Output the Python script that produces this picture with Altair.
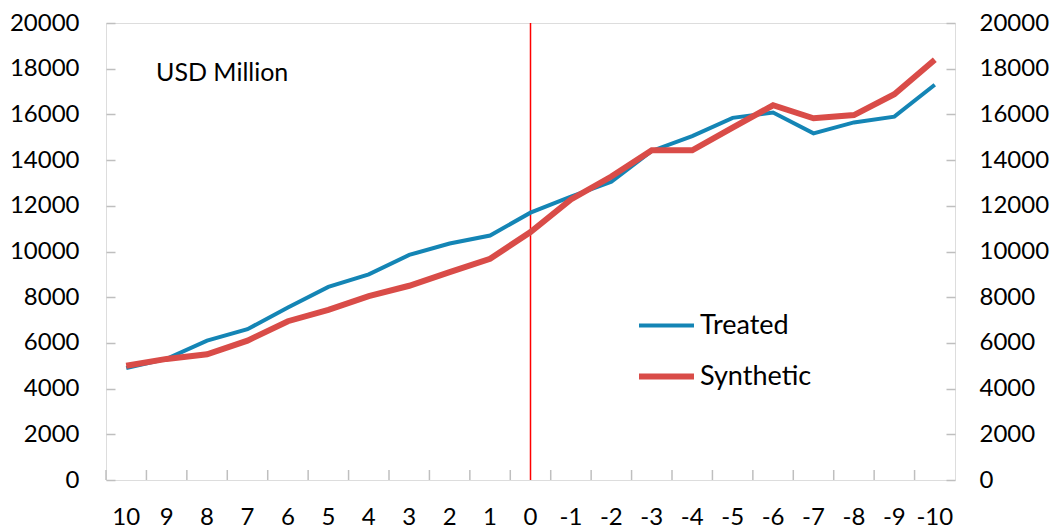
import altair as alt
import pandas as pd

periods = ["10", "9", "8", "7", "6", "5", "4", "3", "2", "1", "0",
           "-1", "-2", "-3", "-4", "-5", "-6", "-7", "-8", "-9", "-10"]
treated = [4900, 5300, 6100, 6600, 7550, 8450, 9000, 9850, 10350, 10700, 11700,
           12400, 13050, 14400, 15050, 15850, 16080, 15170, 15650, 15900, 17300]
synthetic = [5000, 5300, 5500, 6100, 6950, 7450, 8050, 8500, 9100, 9680, 10850,
             12280, 13280, 14430, 14430, 15420, 16400, 15830, 15970, 16880, 18390]
series_names = ["Treated", "Synthetic"]
series_colors = ["#1485B5", "#D94C48"]
series_widths = [4, 6]
treatment_period = "0"
unit_label = "USD Million"
y_ticks = list(range(0, 20001, 2000))

rows = []
for p, t in zip(periods, treated):
    rows.append({"period": p, "value": t, "series": "Treated"})
for p, s in zip(periods, synthetic):
    rows.append({"period": p, "value": s, "series": "Synthetic"})
df = pd.DataFrame(rows)
cats = pd.DataFrame({"period": periods})

GRAY = "#BFBFBF"
FONT = "Lato"
LBL = 24

x_scale = alt.Scale(type="band", domain=periods, paddingInner=0, paddingOuter=0)
y_scale = alt.Scale(domain=[0, 20000], nice=False)

x_axis = alt.Axis(title=None, labelAngle=0, domain=False, grid=False, ticks=False,
                  labelPadding=25, labelFontSize=LBL, labelColor="#000000",
                  labelFont=FONT)


def xenc(band):
    return alt.X("period:N", sort=periods, scale=x_scale, bandPosition=band, axis=x_axis)


left_axis = alt.Axis(title=None, orient="left", values=y_ticks, format="d",
                     domain=False, grid=False, tickSize=9, offset=-9,
                     tickColor=GRAY, tickWidth=1.5, labelPadding=27,
                     labelFontSize=LBL, labelColor="#000000", labelFont=FONT)
right_axis = alt.Axis(title=None, orient="right", values=y_ticks, format="d",
                      domain=False, grid=False, tickSize=9, offset=-9,
                      tickColor=GRAY, tickWidth=1.5, labelPadding=24,
                      labelFontSize=LBL, labelColor="#000000", labelFont=FONT)

legend = alt.Legend(title=None, orient="none", legendX=530, legendY=273,
                    symbolType="stroke", symbolSize=3025, labelFontSize=27,
                    labelFont=FONT, labelColor="#000000", labelOffset=3,
                    rowPadding=7, padding=0)

lines = alt.Chart(df).mark_line(strokeCap="butt", strokeJoin="miter").encode(
    x=xenc(0.5),
    y=alt.Y("value:Q", scale=y_scale, axis=left_axis),
    color=alt.Color("series:N", scale=alt.Scale(domain=series_names, range=series_colors),
                    legend=legend),
    strokeWidth=alt.StrokeWidth("series:N",
                                scale=alt.Scale(domain=series_names, range=series_widths),
                                legend=legend),
    detail="series:N",
)

right = alt.Chart(df).mark_line(opacity=0).encode(
    x=xenc(0.5),
    y=alt.Y("value:Q", scale=y_scale, axis=right_axis),
)

xticks = alt.Chart(cats).mark_rule(color=GRAY, strokeWidth=1.5).encode(
    x=xenc(0), y=alt.value(447), y2=alt.value(457)
)

rule = alt.Chart(pd.DataFrame({"period": [treatment_period]})).mark_rule(
    color="#FF0000", strokeWidth=1.5
).encode(x=xenc(0.5))

label = alt.Chart(pd.DataFrame({"t": [unit_label]})).mark_text(
    align="left", baseline="middle", fontSize=25, font=FONT, color="#000000"
).encode(x=alt.value(50), y=alt.value(50), text="t:N")

chart = alt.layer(xticks, rule, right, lines, label).resolve_axis(y="independent").properties(
    width=1042, height=521,
    autosize=alt.AutoSizeParams(type="fit", contains="padding"),
    padding={"left": 1, "top": 3, "right": 1, "bottom": 0},
    background="#FFFFFF",
).configure_view(stroke=GRAY, strokeWidth=2).configure(font=FONT)

chart.save("out.html", embed_options={"renderer": "svg", "actions": False})
